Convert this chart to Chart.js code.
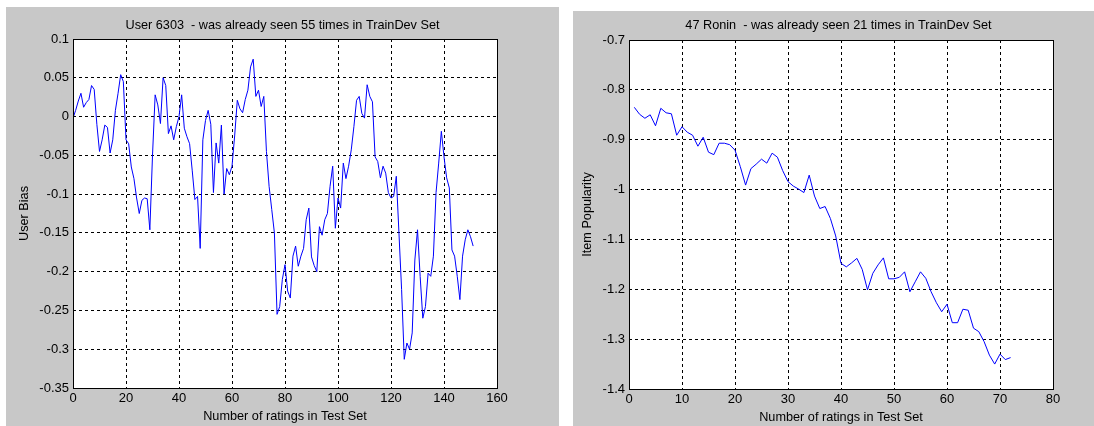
<!DOCTYPE html>
<html>
<head>
<meta charset="utf-8">
<script src="https://cdn.jsdelivr.net/npm/chart.js@4.4.1/dist/chart.umd.min.js"></script>
<style>
  body { margin: 0; background: #fff; width: 1094px; height: 426px; overflow: hidden; position: relative; }
  canvas { position: absolute; }
  #userChart { left: 6px; top: 7px; }
  #itemChart { left: 573px; top: 11px; }
</style>
</head>
<body>
<canvas id="userChart" width="553" height="419"></canvas>
<canvas id="itemChart" width="531" height="415"></canvas>
<script>
// left panel: user bias after each rating in the test set
var userTitle = 'User 6303  - was already seen 55 times in TrainDev Set';
var userBias = [
  -0.002, 0.008, 0.02, 0.03, 0.012, 0.018, 0.022, 0.04, 0.035, -0.01,
  -0.045, -0.03, -0.011, -0.014, -0.047, -0.03, 0.008, 0.03, 0.054, 0.045,
  -0.03, -0.035, -0.065, -0.08, -0.105, -0.125, -0.108, -0.105, -0.106, -0.146,
  -0.05, 0.028, 0.015, -0.009, 0.05, 0.04, -0.022, -0.012, -0.03, -0.013,
  0.0, 0.028, -0.015, -0.026, -0.035, -0.07, -0.107, -0.103, -0.17, -0.03,
  -0.005, 0.008, -0.01, -0.098, -0.034, -0.06, -0.011, -0.1, -0.067, -0.075,
  -0.064, -0.025, 0.021, 0.01, 0.005, 0.022, 0.034, 0.064, 0.074, 0.026,
  0.034, 0.013, 0.026, -0.045, -0.09, -0.12, -0.15, -0.255, -0.245, -0.21,
  -0.191, -0.225, -0.234, -0.18, -0.167, -0.193, -0.18, -0.17, -0.133, -0.118,
  -0.181, -0.192, -0.2, -0.142, -0.153, -0.133, -0.125, -0.09, -0.064, -0.144,
  -0.105, -0.118, -0.06, -0.08, -0.064, -0.043, -0.013, 0.021, 0.026, 0.004,
  -0.002, 0.041, 0.026, 0.019, -0.052, -0.058, -0.079, -0.064, -0.073, -0.098,
  -0.105, -0.103, -0.077, -0.15, -0.223, -0.313, -0.292, -0.3, -0.279, -0.185,
  -0.146, -0.206, -0.26, -0.245, -0.202, -0.206, -0.18, -0.098, -0.06, -0.019,
  -0.052, -0.079, -0.092, -0.172, -0.18, -0.206, -0.236, -0.18, -0.159, -0.146,
  -0.155, -0.167
];
var userX = userBias.map(function (v, i) { return i; });

// right panel: item popularity, ratings start at 1
var itemTitle = '47 Ronin  - was already seen 21 times in TrainDev Set';
var itemPop = [
  -0.835, -0.849, -0.857, -0.85, -0.872, -0.837, -0.846, -0.848, -0.891, -0.874,
  -0.885, -0.891, -0.913, -0.895, -0.925, -0.93, -0.907, -0.907, -0.91, -0.921,
  -0.954, -0.991, -0.958, -0.949, -0.939, -0.947, -0.927, -0.935, -0.962, -0.984,
  -0.993, -0.999, -1.006, -0.971, -1.013, -1.038, -1.034, -1.058, -1.093, -1.148,
  -1.155, -1.147, -1.138, -1.16, -1.201, -1.168, -1.151, -1.137, -1.179, -1.179,
  -1.176, -1.165, -1.205, -1.185, -1.165, -1.178, -1.205, -1.227, -1.245, -1.23,
  -1.267, -1.267, -1.24, -1.242, -1.278, -1.285, -1.305, -1.332, -1.35, -1.33,
  -1.341, -1.337
];
var itemX = itemPop.map(function (v, i) { return i + 1; });

var xLabel = 'Number of ratings in Test Set';

// ----------------------------------------------------------------

Chart.defaults.font.family = '"Liberation Sans", Arial, sans-serif';
Chart.defaults.font.size = 13;
Chart.defaults.color = '#000';

// gray figure, white axes and a solid box like matlab
var matlabFrame = {
  id: 'matlabFrame',
  beforeDraw: function (chart) {
    var ctx = chart.ctx, a = chart.chartArea;
    ctx.save();
    ctx.fillStyle = '#c8c8c8';
    ctx.fillRect(0, 0, chart.width, chart.height);
    ctx.fillStyle = '#fff';
    ctx.fillRect(a.left, a.top, a.right - a.left, a.bottom - a.top);
    ctx.restore();
  },
  afterDraw: function (chart) {
    var ctx = chart.ctx, a = chart.chartArea;
    ctx.save();
    ctx.strokeStyle = '#000';
    ctx.lineWidth = 1;
    ctx.strokeRect(Math.round(a.left) + 0.5, Math.round(a.top) + 0.5,
      Math.round(a.right - a.left), Math.round(a.bottom - a.top));
    ctx.restore();
  }
};

function fmt(v) {
  return String(Number(v.toFixed(2)));
}

function makeConfig(xs, ys, title, yLabel, o) {
  return {
    type: 'line',
    data: {
      datasets: [{
        data: xs.map(function (x, i) { return { x: x, y: ys[i] }; }),
        borderColor: '#0000ff',
        borderWidth: 1,
        pointRadius: 0,
        tension: 0,
        fill: false
      }]
    },
    plugins: [matlabFrame],
    options: {
      responsive: false,
      animation: false,
      devicePixelRatio: 1,
      layout: { padding: 0 },
      plugins: {
        legend: { display: false },
        tooltip: { enabled: false },
        title: {
          display: true,
          text: title,
          color: '#000',
          font: { size: 12.7, weight: 'normal' },
          padding: { top: o.titleTop, bottom: o.titleBottom }
        }
      },
      scales: {
        x: {
          type: 'linear',
          min: o.xMin, max: o.xMax,
          afterFit: function (s) { s.height = o.xHeight; },
          ticks: { stepSize: o.xStep, padding: 3, maxRotation: 0, color: '#000', font: { size: 13 } },
          grid: { color: '#000', lineWidth: 1, drawTicks: false },
          border: { display: false, dash: [3, 3] },
          title: { display: true, text: xLabel, color: '#000', font: { size: 12.7 }, padding: { top: 0, bottom: o.xTitlePad } }
        },
        y: {
          min: o.yMin, max: o.yMax,
          afterFit: function (s) { s.width = o.yWidth; },
          ticks: { stepSize: o.yStep, padding: 4, color: '#000', font: { size: 13 }, callback: fmt },
          grid: { color: '#000', lineWidth: 1, drawTicks: false },
          border: { display: false, dash: [3, 3] },
          title: { display: true, text: yLabel, color: '#000', font: { size: 12.7 }, padding: { top: o.yTitlePad, bottom: 0 } }
        },
        // empty axis on the right, only keeps the gray margin there
        yRight: {
          type: 'linear',
          position: 'right',
          afterFit: function (s) { s.width = o.rightWidth; },
          ticks: { display: false },
          grid: { display: false },
          border: { display: false }
        }
      }
    }
  };
}

var userChart = new Chart(document.getElementById('userChart'),
  makeConfig(userX, userBias, userTitle, 'User Bias', {
    rightWidth: 62, titleTop: 10.4, titleBottom: 6.36, xHeight: 38, yWidth: 67, yTitlePad: 10.4, xTitlePad: 1.7,
    xMin: 0, xMax: 160, xStep: 20, yMin: -0.35, yMax: 0.1, yStep: 0.05
  }));

var itemChart = new Chart(document.getElementById('itemChart'),
  makeConfig(itemX, itemPop, itemTitle, 'Item Popularity', {
    rightWidth: 51, titleTop: 7.1, titleBottom: 6.66, xHeight: 37, yWidth: 56, yTitlePad: 7.1, xTitlePad: 1.1,
    xMin: 0, xMax: 80, xStep: 10, yMin: -1.4, yMax: -0.7, yStep: 0.1
  }));
</script>
</body>
</html>
